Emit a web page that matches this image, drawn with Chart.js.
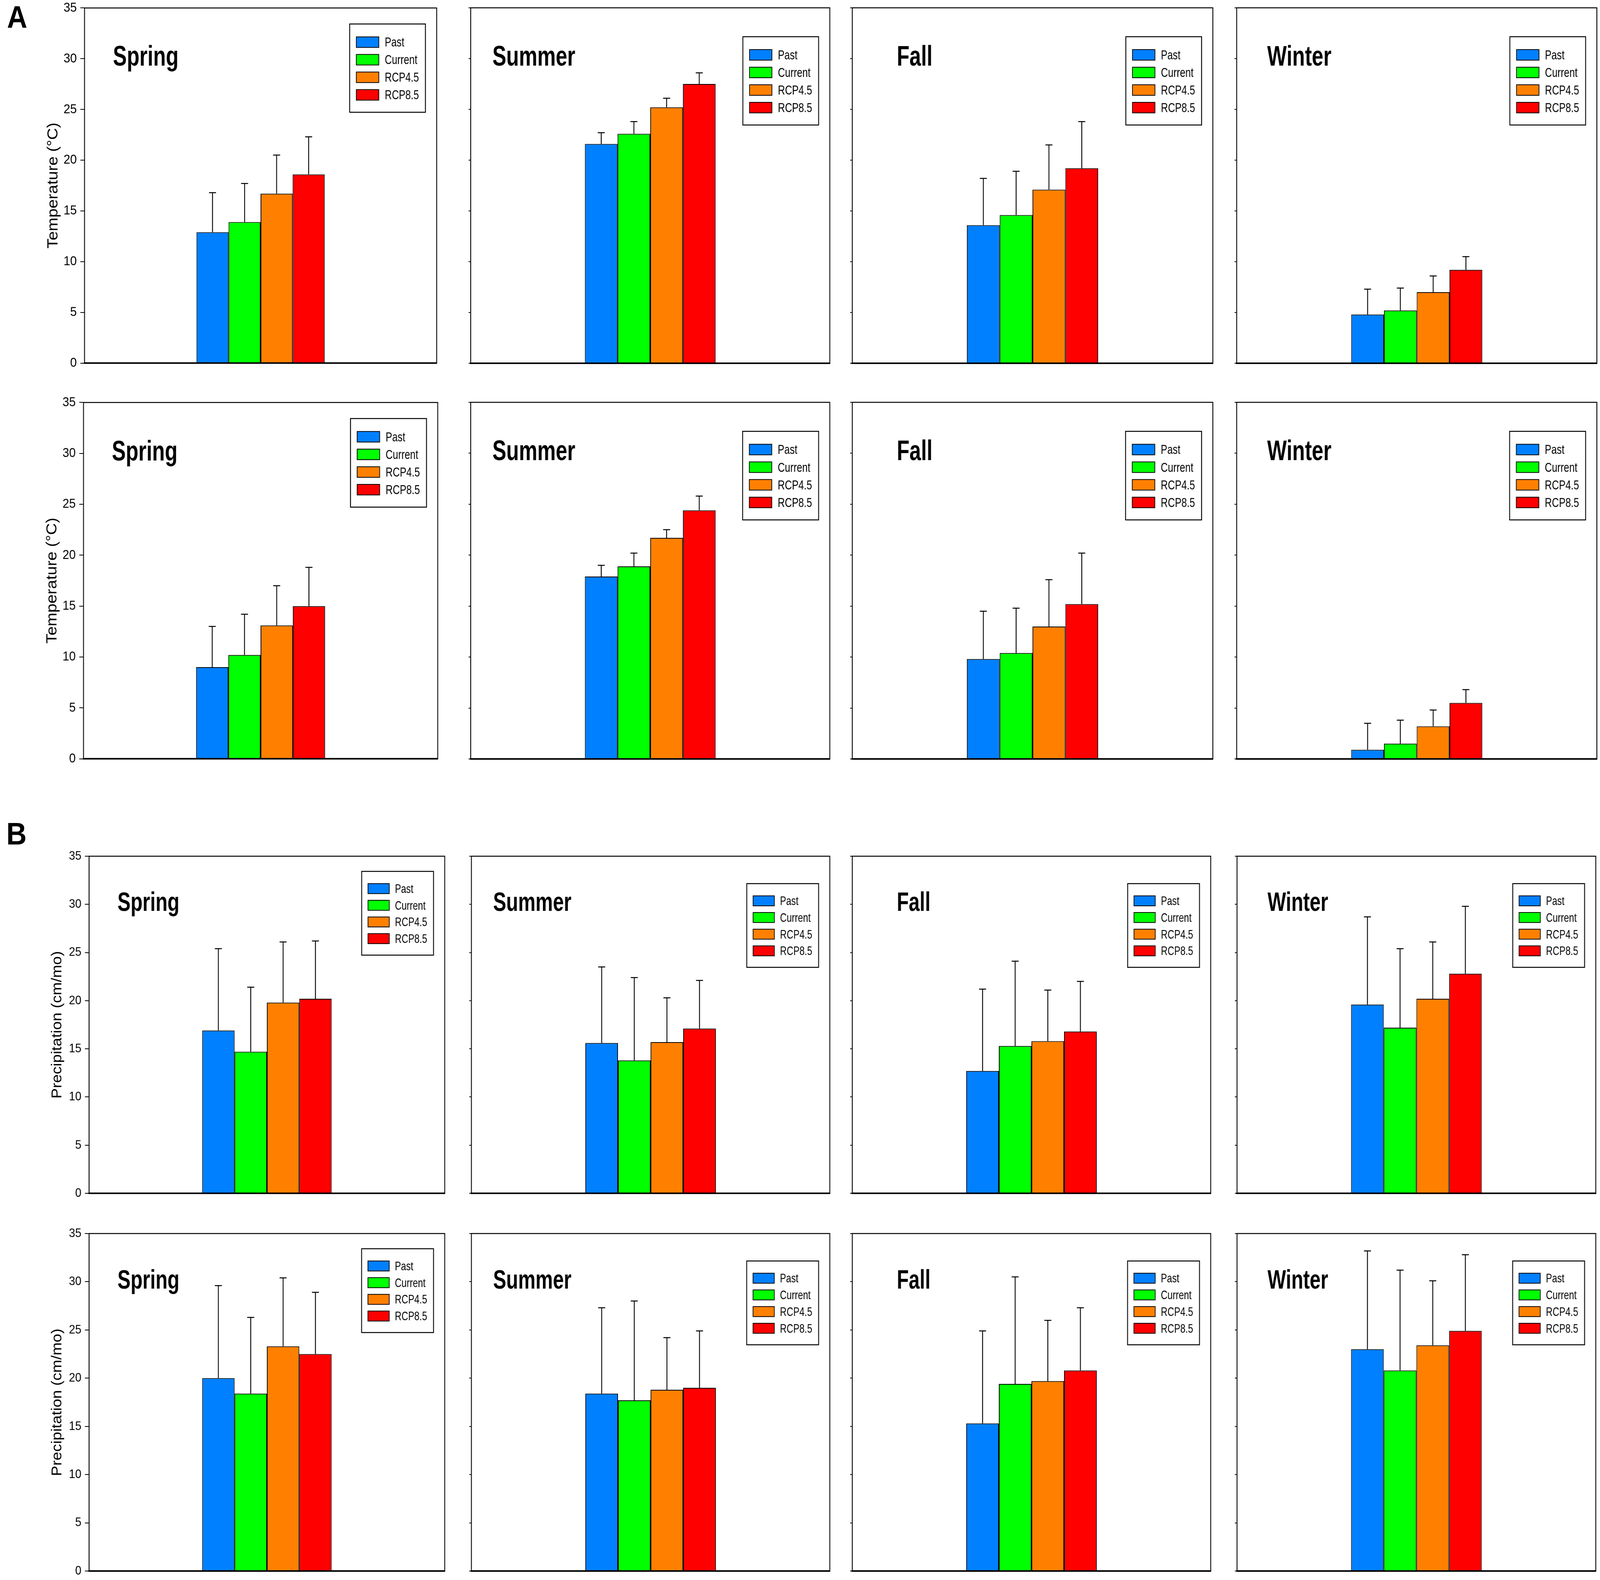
<!DOCTYPE html>
<html lang="en">
<head>
<meta charset="UTF-8">
<title>Seasonal temperature and precipitation by scenario</title>
<style>
  html, body { margin: 0; background: #fff; overflow: hidden; }
  #page { position: relative; width: 4562px; height: 4045px; background: #fff; overflow: hidden; transform-origin: 0 0; }
  .panel { position: absolute; }
  .tag { position: absolute; font: bold 80px "Liberation Sans", Arial, sans-serif; line-height: 80px; color: #000; }
</style>
<script src="https://cdn.jsdelivr.net/npm/chart.js"></script>
</head>
<body>
<div id="page">
  <div class="tag" style="left:20px;top:4px">A</div>
  <div class="tag" style="left:18px;top:2095px">B</div>
</div>
<script>
const scenarios = ['Past', 'Current', 'RCP4.5', 'RCP8.5'];
const seasons = ['Spring', 'Summer', 'Fall', 'Winter'];
const yTicks = [0, 5, 10, 15, 20, 25, 30, 35];
const colors = ['#0080ff', '#00ff00', '#ff8000', '#ff0000'];

// A, upper row: temperature (°C); rows = seasons, columns = scenarios
const tempUpperMean = [
  [12.9, 13.9, 16.7, 18.6],
  [21.6, 22.6, 25.2, 27.5],
  [13.6, 14.6, 17.1, 19.2],
  [4.8, 5.2, 7.0, 9.2]
];
const tempUpperErrTop = [
  [16.8, 17.7, 20.5, 22.3],
  [22.7, 23.8, 26.1, 28.6],
  [18.2, 18.9, 21.5, 23.8],
  [7.3, 7.4, 8.6, 10.5]
];

// A, lower row: temperature (°C)
const tempLowerMean = [
  [9.0, 10.2, 13.1, 15.0],
  [17.9, 18.9, 21.7, 24.4],
  [9.8, 10.4, 13.0, 15.2],
  [0.9, 1.5, 3.2, 5.5]
];
const tempLowerErrTop = [
  [13.0, 14.2, 17.0, 18.8],
  [19.0, 20.2, 22.5, 25.8],
  [14.5, 14.8, 17.6, 20.2],
  [3.5, 3.8, 4.8, 6.8]
];

// B, upper row: precipitation (cm/mo)
const precUpperMean = [
  [16.9, 14.7, 19.8, 20.2],
  [15.6, 13.8, 15.7, 17.1],
  [12.7, 15.3, 15.8, 16.8],
  [19.6, 17.2, 20.2, 22.8]
];
const precUpperErrTop = [
  [25.4, 21.4, 26.1, 26.2],
  [23.5, 22.4, 20.3, 22.1],
  [21.2, 24.1, 21.1, 22.0],
  [28.7, 25.4, 26.1, 29.8]
];

// B, lower row: precipitation (cm/mo)
const precLowerMean = [
  [20.0, 18.4, 23.3, 22.5],
  [18.4, 17.7, 18.8, 19.0],
  [15.3, 19.4, 19.7, 20.8],
  [23.0, 20.8, 23.4, 24.9]
];
const precLowerErrTop = [
  [29.6, 26.3, 30.4, 28.9],
  [27.3, 28.0, 24.2, 24.9],
  [24.9, 30.5, 26.0, 27.3],
  [33.2, 31.2, 30.1, 32.8]
];

const rows = [
  { mean: tempUpperMean, top: tempUpperErrTop, yLabel: 'Temperature (°C)' },
  { mean: tempLowerMean, top: tempLowerErrTop, yLabel: 'Temperature (°C)' },
  { mean: precUpperMean, top: precUpperErrTop, yLabel: 'Precipitation (cm/mo)' },
  { mean: precLowerMean, top: precLowerErrTop, yLabel: 'Precipitation (cm/mo)' }
];

// plot-area boxes in page pixels (page is 4562 x 4045, fitted to the window)
const rowY = [[20, 930], [1030, 1943], [2192, 3055], [3158, 4022]];
const colX = [
  [[241, 1245], [1342, 2366], [2430, 3458], [3526, 4553]],
  [[238, 1248], [1342, 2366], [2430, 3458], [3526, 4553]],
  [[254, 1268], [1344, 2366], [2430, 3452], [3527, 4550]],
  [[254, 1268], [1344, 2366], [2430, 3452], [3527, 4550]]
];
const titleDx = [81, 62, 127, 87];
const legendDy = [41, 74, 74, 74];

// the window may be narrower than the page: squeeze the page to fit
const page = document.getElementById('page');
const fitX = Math.min(1, window.innerWidth / 4562);
const fitY = Math.min(1, window.innerHeight / 4045);
page.style.transform = 'scale(' + fitX + ',' + fitY + ')';

function hasFont(name) {
  const c = document.createElement('canvas').getContext('2d');
  const probe = 'Spring Current RCP4.5 0123';
  c.font = '40px monospace';
  const a = c.measureText(probe).width;
  c.font = '40px "' + name + '", monospace';
  return c.measureText(probe).width !== a;
}
const narrowOk = hasFont('Liberation Sans Narrow');
const narrowFamily = narrowOk ? '"Liberation Sans Narrow", "Arial Narrow", sans-serif' : '"Liberation Sans", Arial, sans-serif';
const squeeze = narrowOk ? 1 : 0.82;

function squeezedText(ctx, text, x, y) {
  ctx.save();
  ctx.translate(x, y);
  ctx.scale(squeeze, 1);
  ctx.fillText(text, 0, 0);
  ctx.restore();
}

const errorBars = {
  id: 'errorBars',
  afterDatasetsDraw(chart) {
    const { ctx } = chart;
    const y = chart.scales.y;
    ctx.save();
    ctx.strokeStyle = '#000';
    ctx.lineWidth = 2.5;
    chart.data.datasets.forEach((ds, i) => {
      chart.getDatasetMeta(i).data.forEach((bar, j) => {
        const top = y.getPixelForValue(ds.errTop[j]);
        ctx.beginPath();
        ctx.moveTo(bar.x, bar.y);
        ctx.lineTo(bar.x, top);
        ctx.moveTo(bar.x - 10, top);
        ctx.lineTo(bar.x + 10, top);
        ctx.stroke();
      });
    });
    ctx.restore();
  }
};

const panelDecor = {
  id: 'panelDecor',
  afterDraw(chart, args, opts) {
    const { ctx, chartArea: a } = chart;
    const s = opts.scale;
    ctx.save();
    // frame
    ctx.strokeStyle = '#000';
    ctx.lineWidth = 2.5;
    ctx.strokeRect(a.left, a.top, a.right - a.left, a.bottom - a.top);
    ctx.lineWidth = 4;
    ctx.beginPath();
    ctx.moveTo(a.left - 2, a.bottom);
    ctx.lineTo(a.right + 1, a.bottom);
    ctx.stroke();

    // season title
    ctx.fillStyle = '#000';
    ctx.textBaseline = 'alphabetic';
    ctx.textAlign = 'left';
    ctx.font = 'bold ' + Math.round(72 * s) + 'px ' + narrowFamily;
    squeezedText(ctx, opts.title, a.left + opts.titleDx, a.top + 148 * s);

    // legend box
    const bw = 216 * s, bh = 226 * s;
    const bx = a.right - 32 - bw, by = a.top + opts.legendDy * s;
    ctx.fillStyle = '#fff';
    ctx.fillRect(bx, by, bw, bh);
    ctx.lineWidth = 2.5;
    ctx.strokeRect(bx, by, bw, bh);
    ctx.font = Math.round(34 * s) + 'px ' + narrowFamily;
    chart.data.datasets.forEach((ds, i) => {
      const sy = by + (33 + i * 45) * s;
      ctx.fillStyle = ds.backgroundColor;
      ctx.fillRect(bx + 19 * s, sy, 64 * s, 27 * s);
      ctx.lineWidth = 2;
      ctx.strokeRect(bx + 19 * s, sy, 64 * s, 27 * s);
      ctx.fillStyle = '#000';
      squeezedText(ctx, ds.label, bx + 100 * s, sy + 25 * s);
    });
    ctx.restore();
  }
};

const padT = 30, padB = 30, padR = 8;

rows.forEach((row, r) => {
  const [py0, py1] = rowY[r];
  const s = (py1 - py0) / 910;
  seasons.forEach((season, c) => {
    const [px0, px1] = colX[r][c];
    const axisW = c === 0 ? 118 : 10;
    const box = document.createElement('div');
    box.className = 'panel';
    box.style.left = (px0 - axisW) + 'px';
    box.style.top = (py0 - padT) + 'px';
    box.style.width = (axisW + px1 - px0 + padR) + 'px';
    box.style.height = (padT + py1 - py0 + padB) + 'px';
    const canvas = document.createElement('canvas');
    box.appendChild(canvas);
    page.appendChild(box);

    new Chart(canvas, {
      type: 'bar',
      data: {
        labels: [season],
        datasets: scenarios.map((name, j) => ({
          label: name,
          data: [row.mean[c][j]],
          errTop: [row.top[c][j]],
          backgroundColor: colors[j],
          borderColor: '#000',
          borderWidth: 2,
          borderSkipped: 'start',
          barPercentage: 1,
          categoryPercentage: 0.364
        }))
      },
      options: {
        responsive: true,
        maintainAspectRatio: false,
        animation: false,
        events: [],
        layout: { padding: { left: 0, top: padT, right: padR, bottom: padB } },
        plugins: {
          legend: { display: false },
          tooltip: { enabled: false },
          panelDecor: { title: season, titleDx: titleDx[c], legendDy: legendDy[c], scale: s }
        },
        scales: {
          x: { display: false },
          y: {
            min: 0,
            max: 35,
            afterBuildTicks: scale => { scale.ticks = yTicks.map(v => ({ value: v })); },
            afterFit: scale => { scale.width = axisW; },
            border: { display: false },
            grid: {
              drawOnChartArea: false,
              drawTicks: true,
              tickLength: c === 0 ? 12 : 6,
              color: '#000',
              lineWidth: 2
            },
            ticks: {
              display: c === 0,
              padding: 10,
              color: '#000',
              font: { family: narrowFamily, size: Math.round(34 * s) }
            },
            title: {
              display: c === 0,
              text: row.yLabel,
              color: '#000',
              padding: { top: 4, bottom: 4 },
              font: { family: '"Liberation Sans", Arial, sans-serif', size: Math.round(42 * s) }
            }
          }
        }
      },
      plugins: [errorBars, panelDecor]
    });
  });
});
</script>
</body>
</html>
